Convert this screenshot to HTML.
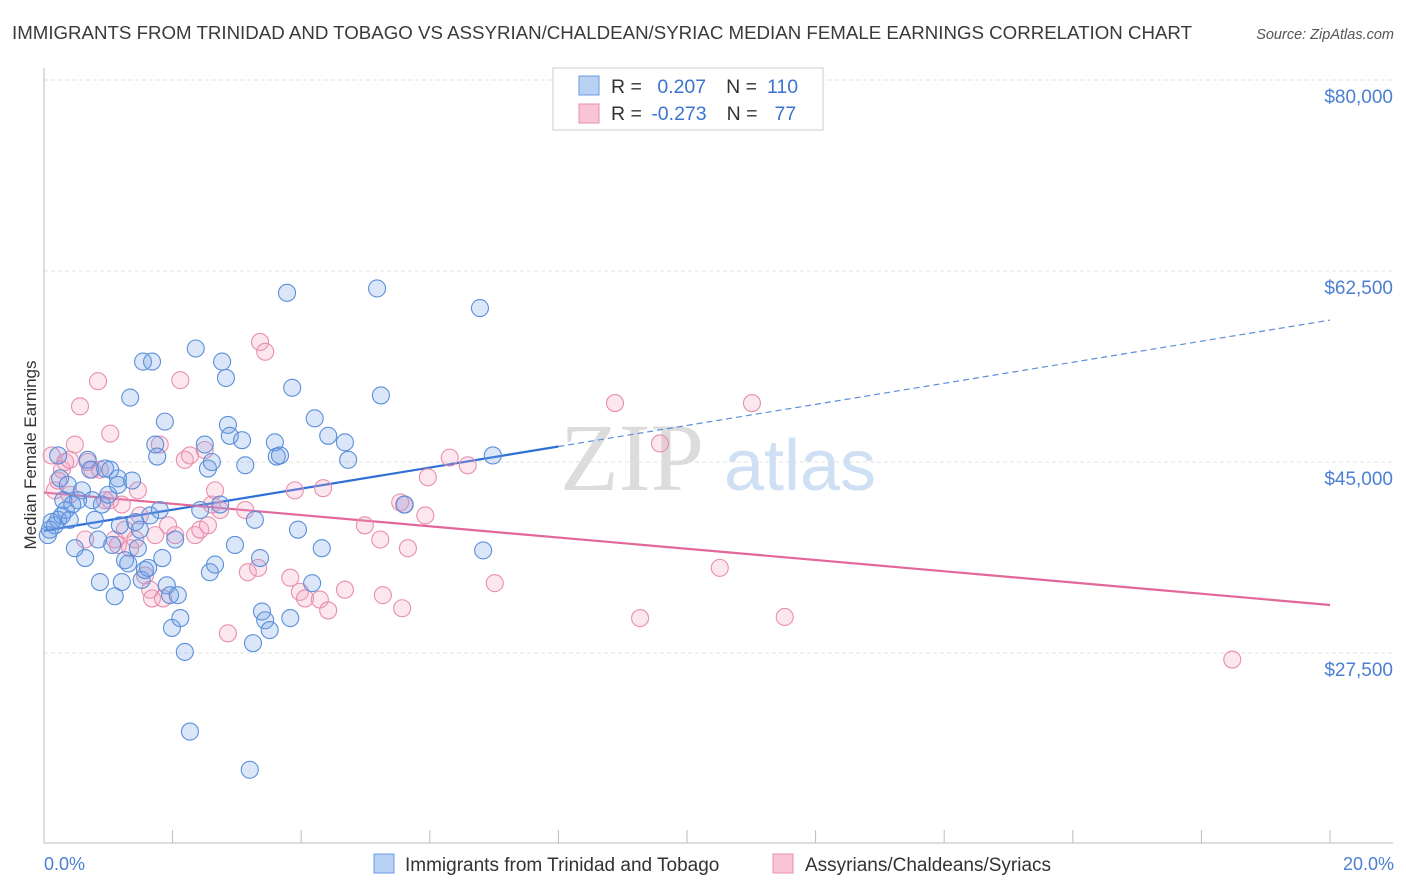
<!DOCTYPE html>
<html><head><meta charset="utf-8"><style>
body{margin:0;background:#fff;font-family:"Liberation Sans",sans-serif;}
svg{display:block}
</style></head><body>
<svg id="chart" width="1406" height="892" xmlns="http://www.w3.org/2000/svg">
<text x="12" y="39" font-size="18.5" fill="#3a3a3a" textLength="1180" lengthAdjust="spacingAndGlyphs">IMMIGRANTS FROM TRINIDAD AND TOBAGO VS ASSYRIAN/CHALDEAN/SYRIAC MEDIAN FEMALE EARNINGS CORRELATION CHART</text>
<text x="1394" y="39" font-size="14.5" fill="#555" font-style="italic" text-anchor="end">Source: ZipAtlas.com</text>
<g>
<text x="632" y="490" font-size="96" font-family="Liberation Serif,serif" fill="#dcdcdc" text-anchor="middle">ZIP</text>
<text x="800" y="490" font-size="72" fill="#cfe0f4" text-anchor="middle">atlas</text>
</g>
<g id="grid"></g>
<g id="axes"></g>
<g id="trend"></g>
<g id="points"></g>
<text x="36" y="455" font-size="17" fill="#333" text-anchor="middle" transform="rotate(-90 36 455)">Median Female Earnings</text>
<text x="44" y="870" font-size="18" fill="#4a7fd4">0.0%</text>
<text x="1394" y="870" font-size="18" fill="#4a7fd4" text-anchor="end">20.0%</text>
<g>
<rect x="553" y="68" width="270" height="62" fill="#fff" stroke="#ccc"/>
<rect x="579" y="76" width="20" height="19" fill="#b8d2f4" stroke="#6b9be0"/>
<rect x="579" y="104" width="20" height="19" fill="#f9c4d4" stroke="#e88fae"/>
<text x="611" y="93" font-size="19.5" fill="#333">R = <tspan fill="#3b73d1" dx="10">0.207</tspan><tspan dx="20" fill="#333">N =</tspan><tspan dx="10" fill="#3b73d1">110</tspan></text>
<text x="611" y="120" font-size="19.5" fill="#333">R = <tspan fill="#3b73d1" dx="4">-0.273</tspan><tspan dx="20" fill="#333">N =</tspan><tspan dx="17" fill="#3b73d1">77</tspan></text>
</g>
<g>
<rect x="374" y="854" width="20" height="19" fill="#b8d2f4" stroke="#6b9be0"/>
<text x="405" y="871" font-size="19" fill="#333">Immigrants from Trinidad and Tobago</text>
<rect x="773" y="854" width="20" height="19" fill="#f9c4d4" stroke="#e88fae"/>
<text x="805" y="871" font-size="19" fill="#333">Assyrians/Chaldeans/Syriacs</text>
</g>
</svg>
<script>
const yTicks=[80000,62500,45000,27500];
const yTickLabels=["$80,000","$62,500","$45,000","$27,500"];
const xTicks=[0,2,4,6,8,10,12,14,16,18,20];
const blueX=[.09,.17,.22,.28,.34,.40,.06,.12,.48,.53,.59,.64,.68,.72,.79,.84,.87,.90,.95,1.00,1.03,1.06,1.10,1.15,1.18,1.21,1.26,1.31,1.34,1.37,1.42,1.46,1.49,1.52,1.54,1.57,1.62,1.65,1.68,1.73,1.76,1.80,1.84,1.88,1.91,1.96,1.99,2.04,2.08,2.12,2.19,2.27,2.36,2.43,2.50,2.55,2.58,2.61,2.66,2.74,2.77,2.83,2.86,2.89,2.97,3.08,3.13,3.20,3.25,3.28,3.36,3.39,3.44,3.51,3.59,3.62,3.67,3.78,3.83,3.86,3.95,4.17,4.21,4.32,4.42,4.68,4.73,5.18,5.24,5.61,6.78,6.83,6.98,.22,.25,.30,.37,.44,.75,1.15];
const blueY=[38.8,39.2,39.7,40.1,40.6,39.7,38.3,39.5,37.1,41.5,42.4,36.2,45.2,44.3,39.7,37.9,34.0,41.1,44.4,42.0,44.3,37.4,32.7,42.9,39.2,34.0,36.0,35.7,50.9,43.3,39.5,37.1,38.8,34.2,54.2,35.1,35.3,40.1,54.2,46.6,45.5,40.6,36.2,48.7,33.7,32.8,29.8,37.9,32.8,30.7,27.6,20.3,55.4,40.6,46.6,44.4,34.9,45.0,35.6,41.1,54.2,52.7,48.4,47.4,37.4,47.0,44.7,16.8,28.4,39.7,36.2,31.3,30.5,29.6,46.8,45.5,45.6,60.5,30.7,51.8,38.8,33.9,49.0,37.1,47.4,46.8,45.2,60.9,51.1,41.1,59.1,36.9,45.6,45.6,43.5,41.5,42.9,41.1,41.5,43.5];
const pinkX=[.12,.17,.22,.28,.33,.40,.48,.56,.64,.68,.75,.84,.95,1.03,1.10,1.15,1.21,1.26,1.34,1.42,1.46,1.49,1.57,1.65,1.68,1.73,1.80,1.85,1.93,2.04,2.12,2.19,2.27,2.35,2.43,2.50,2.55,2.61,2.66,2.74,2.86,3.13,3.17,3.33,3.36,3.44,3.83,3.90,3.98,4.06,4.29,4.34,4.42,4.68,4.99,5.23,5.27,5.57,5.60,5.54,5.66,5.93,5.97,6.31,6.59,7.01,8.88,9.27,9.58,10.51,11.01,11.52,18.48,.40,.87,1.03];
const pinkY=[45.6,42.4,43.3,44.3,45.0,42.0,46.6,50.1,37.9,45.0,44.3,52.4,41.5,47.6,37.9,37.4,41.1,38.8,37.1,37.9,42.4,40.1,34.6,33.3,32.5,38.3,46.6,32.5,39.2,38.3,52.5,45.2,45.6,38.3,38.8,46.1,39.2,41.1,42.4,40.6,29.3,40.6,34.9,35.3,56.0,55.1,34.4,42.4,33.1,32.5,32.4,42.6,31.4,33.3,39.2,37.9,32.8,31.6,41.1,41.3,37.1,40.1,43.6,45.4,44.7,33.9,50.4,30.7,46.7,35.3,50.4,30.8,26.9,45.2,44.3,41.5];
const blueTrend=[38.7,58.0];
const pinkTrend=[42.2,31.9];
const blueSolidEnd=8;
const NS="http://www.w3.org/2000/svg";
function xs(p){return 44+p*(1330-44)/20;}
function ys(v){return 80+(80000-v)*(191/17500);}
function mk(tag,attrs,parent){const e=document.createElementNS(NS,tag);for(const k in attrs)e.setAttribute(k,attrs[k]);parent.appendChild(e);return e;}
const grid=document.getElementById('grid'),axes=document.getElementById('axes'),trend=document.getElementById('trend'),pts=document.getElementById('points');
yTicks.forEach((t,i)=>{
 const l=mk('line',{x1:44,x2:1393,y1:ys(t),y2:ys(t),stroke:'#e2e2e2','stroke-dasharray':'4,3'},grid);
 
 
 const tx=mk('text',{x:1393,y:ys(t)+23,'font-size':19,fill:'#4a7fd4','text-anchor':'end'},grid);
 tx.textContent=yTickLabels[i];
 
 
});
const xa=mk('line',{x1:44,x2:1393,y1:843,y2:843,stroke:'#bbb'},axes);


const ya=mk('line',{x1:44,x2:44,y1:68,y2:843,stroke:'#bbb'},axes);


xTicks.forEach(t=>{
 const l=mk('line',{x1:xs(t),x2:xs(t),y1:830,y2:843,stroke:'#bbb'},axes);
 
 
});
function tv(tr,p){return (tr[0]+(tr[1]-tr[0])*p/20)*1000;}
const bs=mk('line',{x1:xs(0),y1:ys(tv(blueTrend,0)),x2:xs(blueSolidEnd),y2:ys(tv(blueTrend,blueSolidEnd)),stroke:'#2f6fd6','stroke-width':2.2},trend);


const bd=mk('line',{x1:xs(blueSolidEnd),y1:ys(tv(blueTrend,blueSolidEnd)),x2:xs(20),y2:ys(tv(blueTrend,20)),stroke:'#5b8fd9','stroke-width':1.2,'stroke-dasharray':'6,4'},trend);


const pl=mk('line',{x1:xs(0),y1:ys(tv(pinkTrend,0)),x2:xs(20),y2:ys(tv(pinkTrend,20)),stroke:'#e4679a','stroke-width':2.2},trend);


pinkX.forEach((x,i)=>{
 const c=mk('circle',{cx:xs(x),cy:ys(pinkY[i]*1000),r:8.5,fill:'rgba(244,160,190,0.25)',stroke:'#e88fae','stroke-width':1.1},pts);
 
 
});
blueX.forEach((x,i)=>{
 const c=mk('circle',{cx:xs(x),cy:ys(blueY[i]*1000),r:8.5,fill:'rgba(110,160,230,0.25)',stroke:'#5b8fd9','stroke-width':1.1},pts);
 
 
});
</script>
</body></html>
